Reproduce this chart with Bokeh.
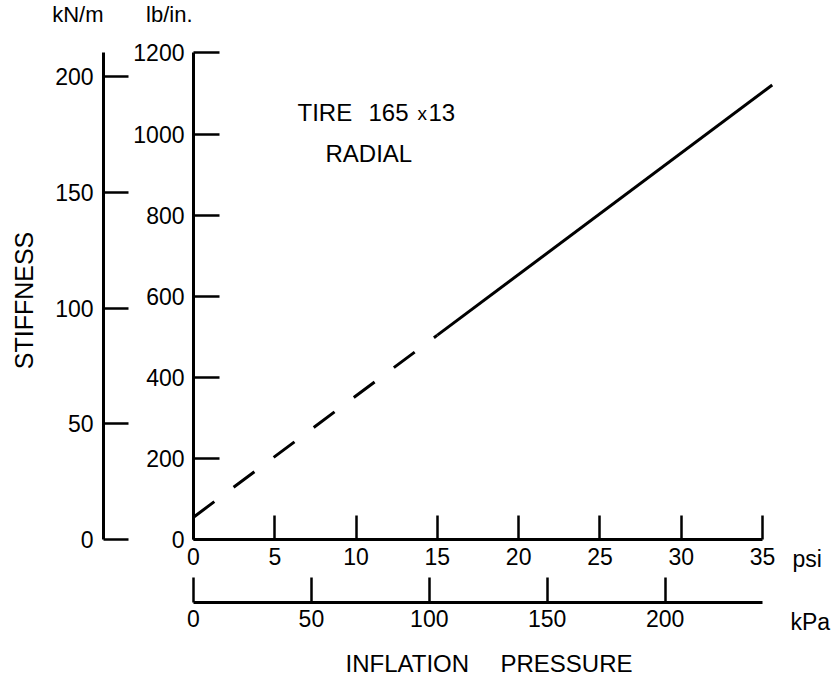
from bokeh.plotting import figure
from bokeh.models import LinearAxis, Range1d, FixedTicker, Label
from bokeh.embed import file_html
from bokeh.resources import INLINE
import math

# ---- data ----
psi_dashed = [0, 15]
stiff_dashed = [55, 504]          # lb/in.
psi_solid = [15, 35.6]
stiff_solid = [504, 1121]         # lb/in.

lbin_ticks = [0, 200, 400, 600, 800, 1000, 1200]
knm_ticks = [0, 50, 100, 150, 200]
psi_ticks = [0, 5, 10, 15, 20, 25, 30, 35]
kpa_ticks = [0, 50, 100, 150, 200]

LBIN_PER_KNM = 5.7101
KPA_PER_PSI = 6.8948
PSI_AXIS_END = 35
LBIN_AXIS_END = 1200

FONT = "Liberation Sans"

# ---- layout (pixels) ----
W, H = 834, 680
X0, Y0 = 193, 539            # pixel of (0 psi, 0 lb/in.)
PX_PER_PSI = 16.257
PX_PER_LB = 0.40542


def px_x(X):   # pixel column -> psi
    return (X - X0) / PX_PER_PSI


def px_y(Y):   # pixel row -> lb/in.
    return (Y0 - Y) / PX_PER_LB


x_start, x_end = px_x(0), px_x(W)
y_start, y_end = px_y(H), px_y(0)

p = figure(width=W, height=H, output_backend="svg", toolbar_location=None,
           x_range=Range1d(x_start, x_end), y_range=Range1d(y_start, y_end),
           x_axis_location=None, y_axis_location=None,
           min_border=0, min_border_left=0, min_border_right=0,
           min_border_top=0, min_border_bottom=0)
p.outline_line_color = None
p.grid.visible = False
p.background_fill_color = "white"
p.border_fill_color = "white"

p.extra_y_ranges = {"knm": Range1d(y_start / LBIN_PER_KNM, y_end / LBIN_PER_KNM)}
p.extra_x_ranges = {"kpa": Range1d(x_start * KPA_PER_PSI, x_end * KPA_PER_PSI)}


def style(ax, tick_in, standoff):
    ax.axis_line_width = 3
    ax.axis_line_color = "black"
    ax.major_tick_line_width = 2.5
    ax.major_tick_line_color = "black"
    ax.major_tick_in = tick_in
    ax.major_tick_out = 0
    ax.minor_tick_line_color = None
    ax.major_label_standoff = standoff
    ax.major_label_text_font = FONT
    ax.major_label_text_font_size = "23px"
    ax.major_label_text_color = "black"


# lb/in. axis at 0 psi
ax_lb = LinearAxis(ticker=FixedTicker(ticks=lbin_ticks), fixed_location=0,
                   bounds=(0, LBIN_AXIS_END))
style(ax_lb, 26, 9)
p.add_layout(ax_lb, "left")

# kN/m axis further left
ax_kn = LinearAxis(y_range_name="knm", ticker=FixedTicker(ticks=knm_ticks),
                   fixed_location=px_x(103),
                   bounds=(0, LBIN_AXIS_END / LBIN_PER_KNM))
style(ax_kn, 25, 10)
p.add_layout(ax_kn, "left")

# psi axis at 0 lb/in.
ax_psi = LinearAxis(ticker=FixedTicker(ticks=psi_ticks), fixed_location=0,
                    bounds=(0, PSI_AXIS_END))
style(ax_psi, 24, 8)
p.add_layout(ax_psi, "below")

# kPa axis below
ax_kpa = LinearAxis(x_range_name="kpa", ticker=FixedTicker(ticks=kpa_ticks),
                    fixed_location=px_y(602),
                    bounds=(0, PSI_AXIS_END * KPA_PER_PSI))
style(ax_kpa, 25, 7)
p.add_layout(ax_kpa, "below")

# data lines
p.line(x=psi_dashed, y=stiff_dashed, line_width=3, line_color="black", line_dash="26 24")
p.line(x=psi_solid, y=stiff_solid, line_width=3, line_color="black")


def lab(text, X, Y, size="22px", align="left", angle=0.0):
    p.add_layout(Label(x=px_x(X), y=px_y(Y), text=text, angle=angle,
                       text_font=FONT, text_font_size=size, text_color="black",
                       text_align=align, text_baseline="middle"))


# unit labels
lab("kN/m", 103, 14, align="right")
lab("lb/in.", 192, 14, align="right")
lab("psi", 792, 558, size="23px")
lab("kPa", 790, 621, size="23px")

# axis titles
lab("STIFFNESS", 23.5, 300, size="25px", align="center", angle=math.pi / 2)
lab("INFLATION", 345, 663, size="24px")
lab("PRESSURE", 500, 663, size="24px")

# annotation
lab("TIRE", 297, 112, size="24px")
lab("165", 368, 112, size="24px")
lab("x", 417, 113, size="19px")
lab("13", 428, 112, size="24px")
lab("RADIAL", 325, 153, size="24px")

open("out.html", "w").write(file_html(p, INLINE))
